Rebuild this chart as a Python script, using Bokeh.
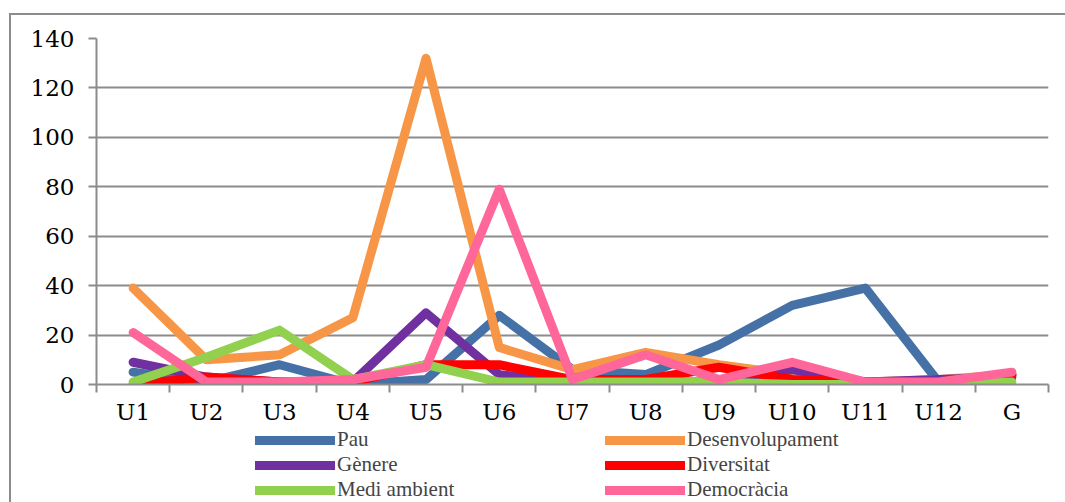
from bokeh.plotting import figure
from bokeh.layouts import column
from bokeh.models import Range1d, FixedTicker, Legend, LegendItem
from bokeh.embed import file_html
from bokeh.resources import INLINE

categories = ["U1", "U2", "U3", "U4", "U5", "U6", "U7", "U8", "U9", "U10", "U11", "U12", "G"]
pau = [5, 1, 8, 0, 2, 28, 6, 4, 16, 32, 39, 1, 4]
desenvolupament = [39, 10, 12, 27, 132, 15, 6, 13, 8, 4, 1, 2, 4]
genere = [9, 3, 1, 1, 29, 4, 1, 1, 1, 6, 1, 2, 3]
diversitat = [0, 3, 1, 1, 8, 8, 2, 2, 7, 2, 1, 1, 4]
medi_ambient = [1, 11, 22, 2, 8, 1, 1, 1, 1, 0, 0, 0, 1]
democracia = [21, 1, 1, 2, 7, 79, 2, 12, 2, 9, 1, 1, 5]
y_ticks = [0, 20, 40, 60, 80, 100, 120, 140]

series = [
    ("Pau", pau, "#4571A7"),
    ("Desenvolupament", desenvolupament, "#F79646"),
    ("Gènere", genere, "#7030A0"),
    ("Diversitat", diversitat, "#FF0000"),
    ("Medi ambient", medi_ambient, "#92D050"),
    ("Democràcia", democracia, "#FF6699"),
]
# legend fills column by column: left column, then right column
legend_order = ["Pau", "Gènere", "Medi ambient", "Desenvolupament", "Diversitat", "Democràcia"]

n = len(categories)
xs = [i + 0.5 for i in range(n)]

p = figure(width=1054, height=412, output_backend="svg", toolbar_location=None,
           x_range=Range1d(0, n), y_range=Range1d(0, 140),
           min_border_left=85, min_border_top=23, min_border_right=17, min_border_bottom=43)
p.outline_line_color = None
p.background_fill_color = "white"
p.border_fill_color = "white"

for name, vals, col in series:
    p.line(xs, vals, line_color=col, line_width=9, line_join="round", line_cap="round")

# x axis
p.xaxis.ticker = FixedTicker(ticks=xs, minor_ticks=list(range(n + 1)))
p.xaxis.major_label_overrides = {x: c for x, c in zip(xs, categories)}
p.xaxis.major_tick_out = 0
p.xaxis.major_tick_in = 0
p.xaxis.minor_tick_out = 8
p.xaxis.minor_tick_in = 0
p.xaxis.minor_tick_line_color = "#8c8c8c"
p.xaxis.minor_tick_line_width = 2
p.xaxis.axis_line_color = "#8c8c8c"
p.xaxis.axis_line_width = 2
p.xaxis.major_label_standoff = 6
p.xaxis.major_label_text_font = "DejaVu Serif"
p.xaxis.major_label_text_font_size = "23px"
p.xaxis.major_label_text_color = "black"

# y axis
p.yaxis.ticker = FixedTicker(ticks=y_ticks)
p.yaxis.major_tick_out = 8
p.yaxis.major_tick_in = 0
p.yaxis.minor_tick_line_color = None
p.yaxis.major_tick_line_color = "#8c8c8c"
p.yaxis.major_tick_line_width = 2
p.yaxis.axis_line_color = "#8c8c8c"
p.yaxis.axis_line_width = 2
p.yaxis.major_label_standoff = 14
p.yaxis.major_label_text_font = "DejaVu Serif"
p.yaxis.major_label_text_font_size = "23px"
p.yaxis.major_label_text_color = "black"

p.xgrid.grid_line_color = None
p.ygrid.ticker = FixedTicker(ticks=y_ticks)
p.ygrid.grid_line_color = "#8c8c8c"
p.ygrid.grid_line_width = 2

# legend panel
pl = figure(width=1054, height=75, output_backend="svg", toolbar_location=None,
            x_range=Range1d(0, 1), y_range=Range1d(0, 1),
            x_axis_location=None, y_axis_location=None,
            min_border_left=85, min_border_right=17, min_border_top=0, min_border_bottom=0)
pl.outline_line_color = None
pl.xgrid.grid_line_color = None
pl.ygrid.grid_line_color = None
pl.background_fill_color = "white"
pl.border_fill_color = "white"

legend_renderers = {}
for name, vals, col in series:
    legend_renderers[name] = pl.line([float("nan"), float("nan")], [float("nan"), float("nan")],
                                     line_color=col, line_width=9, line_cap="round")
items = [LegendItem(label=name, renderers=[legend_renderers[name]]) for name in legend_order]

legend = Legend(items=items, ncols=2, location=(159, 0),
                padding=0, margin=0, spacing=0, glyph_width=80, glyph_height=20,
                label_height=20, label_width=268, label_standoff=2,
                label_text_font="Liberation Serif", label_text_font_size="21px",
                border_line_color=None, background_fill_alpha=0)
pl.add_layout(legend, "center")

layout = column(p, pl, spacing=0,
                styles={"margin-left": "9px", "margin-top": "13px",
                        "border-left": "2px solid #8c8c8c", "border-top": "2px solid #8c8c8c"})

open("out.html", "w").write(file_html(layout, INLINE))
